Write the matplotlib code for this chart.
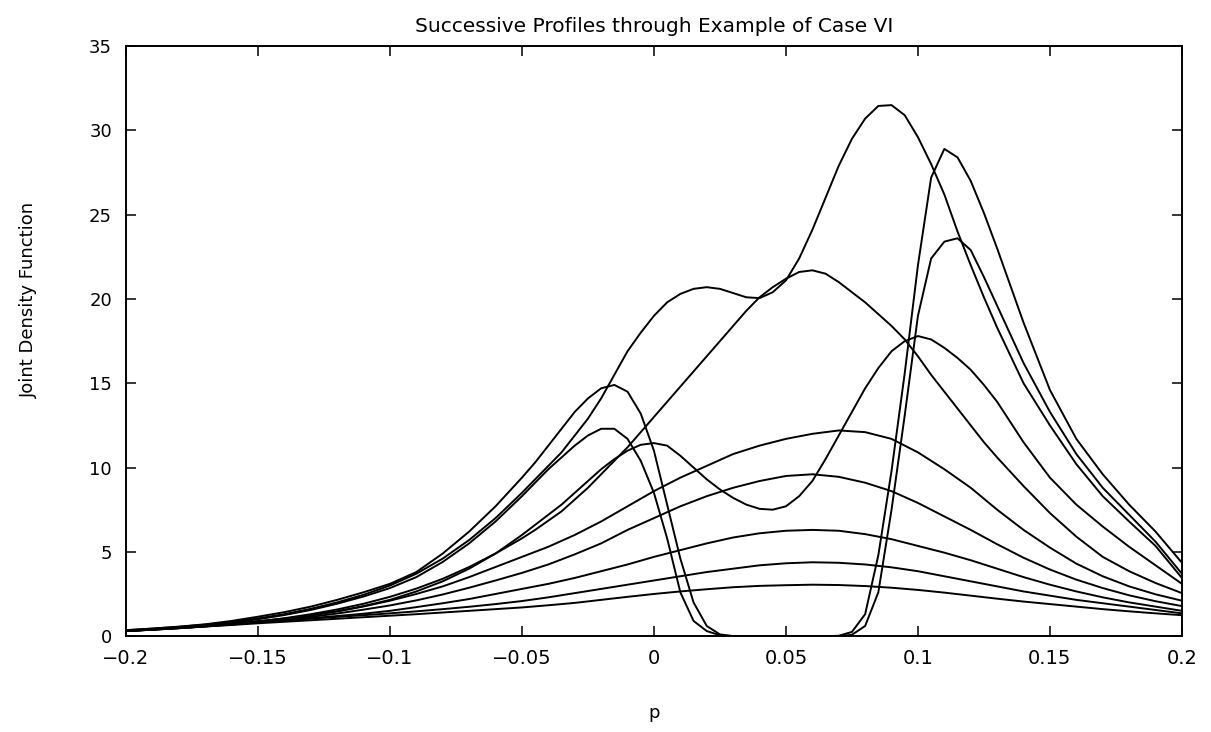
import numpy as np
import matplotlib
matplotlib.use("Agg")
import matplotlib.pyplot as plt

# p grids: coarse for the smooth profiles, finer in the middle for the sharp ones
p_coarse = np.round(np.arange(-0.2, 0.2001, 0.01), 3)
p_fine = np.round(np.concatenate([np.arange(-0.2, -0.0499, 0.01),
                                  np.arange(-0.045, 0.1301, 0.005),
                                  np.arange(0.14, 0.2001, 0.01)]), 3)

# smooth profiles (p_coarse)
prof1 = [0.3, 0.39, 0.48, 0.57, 0.66, 0.76, 0.85, 0.94, 1.03, 1.12, 1.21, 1.3, 1.4, 1.5, 1.6, 1.7,
         1.83, 1.97, 2.15, 2.33, 2.5, 2.65, 2.78, 2.9, 2.98, 3.02, 3.05, 3.03, 2.97, 2.87, 2.74,
         2.58, 2.4, 2.22, 2.05, 1.9, 1.75, 1.6, 1.47, 1.35, 1.24]
prof2 = [0.3, 0.4, 0.5, 0.6, 0.7, 0.82, 0.93, 1.04, 1.14, 1.24, 1.35, 1.47, 1.6, 1.74, 1.9, 2.08,
         2.3, 2.55, 2.8, 3.05, 3.3, 3.55, 3.8, 4.0, 4.2, 4.32, 4.38, 4.35, 4.25, 4.08, 3.85,
         3.55, 3.25, 2.95, 2.65, 2.4, 2.15, 1.95, 1.75, 1.55, 1.35]
prof3 = [0.3, 0.4, 0.5, 0.6, 0.7, 0.82, 0.94, 1.06, 1.19, 1.33, 1.5, 1.72, 1.95, 2.2, 2.5, 2.8,
         3.1, 3.45, 3.85, 4.25, 4.7, 5.1, 5.5, 5.85, 6.1, 6.25, 6.3, 6.25, 6.05, 5.75, 5.35,
         4.95, 4.5, 4.0, 3.5, 3.05, 2.65, 2.3, 2.0, 1.75, 1.5]
prof4 = [0.3, 0.38, 0.47, 0.57, 0.68, 0.82, 0.97, 1.14, 1.34, 1.57, 1.82, 2.12, 2.47, 2.87, 3.3, 3.75,
         4.25, 4.85, 5.5, 6.3, 7.0, 7.7, 8.3, 8.8, 9.2, 9.5, 9.6, 9.45, 9.1, 8.6, 7.9,
         7.1, 6.3, 5.45, 4.65, 3.95, 3.35, 2.85, 2.42, 2.07, 1.78]
prof5 = [0.3, 0.38, 0.47, 0.58, 0.71, 0.86, 1.02, 1.22, 1.46, 1.76, 2.1, 2.5, 2.95, 3.5, 4.1, 4.7,
         5.3, 6.0, 6.8, 7.7, 8.6, 9.4, 10.1, 10.8, 11.3, 11.7, 12.0, 12.2, 12.1, 11.7, 10.9,
         9.9, 8.8, 7.5, 6.3, 5.25, 4.3, 3.55, 2.95, 2.48, 2.1]

# sharp profiles (p_fine)
prof6 = [0.32, 0.4, 0.5, 0.61, 0.74, 0.88, 1.04, 1.24, 1.48, 1.78, 2.15, 2.65, 3.25, 4.0, 4.9, 6.0,
         6.6, 7.2, 7.8, 8.5, 9.2, 9.9, 10.5, 11.0, 11.35, 11.45, 11.3, 10.7, 10.0, 9.3, 8.7,
         8.2, 7.8, 7.55, 7.5, 7.7, 8.3, 9.2, 10.5, 11.9, 13.3, 14.7, 15.9, 16.9, 17.5, 17.8,
         17.6, 17.1, 16.5, 15.8, 14.9, 13.9,
         11.5, 9.4, 7.8, 6.5, 5.3, 4.2, 3.1]
prof7 = [0.35, 0.45, 0.56, 0.7, 0.9, 1.15, 1.42, 1.75, 2.15, 2.6, 3.1, 3.8, 4.9, 6.2, 7.7, 9.4,
         10.3, 11.3, 12.3, 13.3, 14.1, 14.7, 14.9, 14.5, 13.2, 11.0, 7.8, 4.6, 2.0, 0.6, 0.1,
         0.0, 0.0, 0.0, 0.0, 0.0, 0.0, 0.0, 0.0, 0.02, 0.25, 1.3, 4.8, 9.8, 15.6, 22.0,
         27.2, 28.9, 28.4, 27.0, 25.1, 23.0,
         18.6, 14.6, 11.7, 9.6, 7.8, 6.2, 4.35]
prof8 = [0.32, 0.41, 0.51, 0.64, 0.8, 1.0, 1.25, 1.55, 1.92, 2.35, 2.85, 3.5, 4.4, 5.5, 6.8, 8.3,
         9.1, 9.9, 10.6, 11.3, 11.9, 12.3, 12.3, 11.7, 10.4, 8.5, 5.8, 2.6, 0.9, 0.3, 0.05,
         0.0, 0.0, 0.0, 0.0, 0.0, 0.0, 0.0, 0.0, 0.0, 0.08, 0.6, 2.6, 7.5, 13.1, 19.0,
         22.4, 23.4, 23.6, 22.9, 21.3, 19.6,
         16.2, 13.3, 10.8, 8.8, 7.2, 5.6, 3.7]
prof9 = [0.3, 0.38, 0.47, 0.58, 0.71, 0.87, 1.06, 1.3, 1.58, 1.92, 2.33, 2.82, 3.4, 4.1, 4.9, 5.8,
         6.3, 6.85, 7.4, 8.1, 8.8, 9.6, 10.4, 11.2, 12.1, 13.0, 13.9, 14.8, 15.7, 16.6, 17.5,
         18.4, 19.3, 20.1, 20.7, 21.2, 21.6, 21.7, 21.5, 21.0, 20.4, 19.8, 19.1, 18.4, 17.6, 16.6,
         15.5, 14.5, 13.5, 12.5, 11.5, 10.6,
         8.9, 7.3, 5.9, 4.7, 3.85, 3.15, 2.55]
prof10 = [0.35, 0.44, 0.55, 0.68, 0.85, 1.05, 1.3, 1.62, 2.0, 2.45, 3.0, 3.7, 4.6, 5.7, 7.0, 8.5,
          9.3, 10.1, 10.9, 11.9, 12.9, 14.1, 15.5, 16.9, 18.0, 19.0, 19.8, 20.3, 20.6, 20.7, 20.6,
          20.35, 20.1, 20.05, 20.4, 21.1, 22.4, 24.1, 26.0, 27.9, 29.5, 30.7, 31.45, 31.5, 30.9, 29.6,
          28.0, 26.2, 24.0, 22.0, 20.1, 18.3,
          15.0, 12.5, 10.2, 8.3, 6.8, 5.35, 3.45]

x_ticks = [-0.2, -0.15, -0.1, -0.05, 0, 0.05, 0.1, 0.15, 0.2]
x_labels = ['\u22120.2', '\u22120.15', '\u22120.1', '\u22120.05', '0', '0.05', '0.1', '0.15', '0.2']
y_ticks = [0, 5, 10, 15, 20, 25, 30, 35]

fig = plt.figure(figsize=(12.11, 7.32), dpi=100)
ax = fig.add_axes([0.104, 0.131, 0.872, 0.806])

for prof in [prof1, prof2, prof3, prof4, prof5]:
    ax.plot(p_coarse, prof, color='black', lw=1.4)
for prof in [prof6, prof7, prof8, prof9, prof10]:
    ax.plot(p_fine, prof, color='black', lw=1.4)

ax.set_xlim(-0.2, 0.2)
ax.set_ylim(0, 35)
ax.set_xticks(x_ticks)
ax.set_xticklabels(x_labels)
ax.set_yticks(y_ticks)
ax.tick_params(direction='in', top=True, right=True, length=7, width=1.1)
ax.tick_params(axis='x', labelsize=14, pad=9)
ax.tick_params(axis='y', labelsize=13, pad=10)
for s in ax.spines.values():
    s.set_linewidth(1.4)

ax.set_title('Successive Profiles through Example of Case VI', fontsize=14.5, pad=10)
ax.set_xlabel('p', fontsize=13, labelpad=26)
ax.set_ylabel('Joint Density Function', fontsize=13)
ax.yaxis.set_label_coords(-0.083, 0.57)

fig.savefig('out.png', dpi=100)
